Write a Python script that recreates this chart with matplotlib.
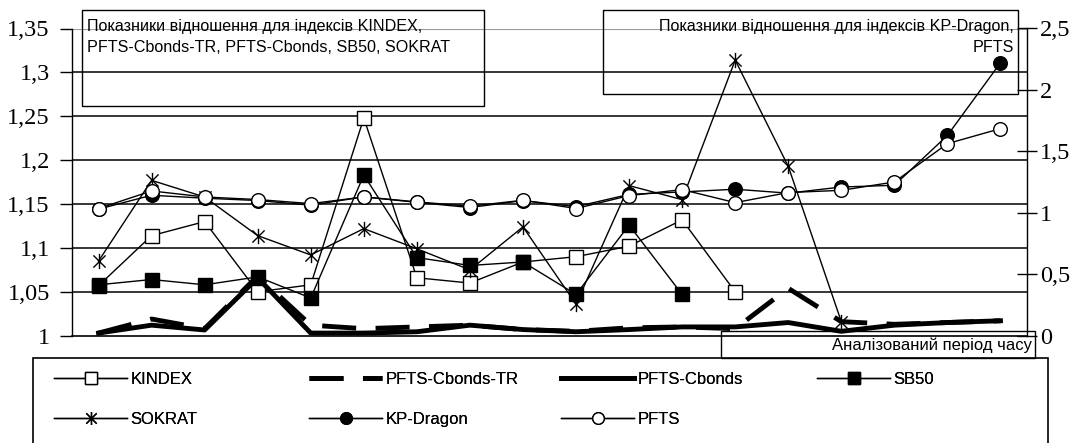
import matplotlib
matplotlib.use("Agg")
import matplotlib.pyplot as plt
import numpy as np
from matplotlib.path import Path
from matplotlib.patches import Rectangle

# ---------------- data ----------------
periods = list(range(1, 19))
kindex = [1.057, 1.114, 1.130, 1.050, 1.058, 1.248, 1.066, 1.060, 1.084, 1.090,
          1.102, 1.132, 1.050, None, None, None, None, None]
cbonds_tr = [1.003, 1.019, 1.008, 1.068, 1.012, 1.008, 1.010, 1.012, 1.007, 1.005,
             1.009, 1.010, 1.008, 1.054, 1.016, 1.013, 1.015, 1.017]
cbonds = [1.003, 1.012, 1.0065, 1.066, 1.003, 1.003, 1.0045, 1.012, 1.007, 1.0045,
          1.007, 1.010, 1.010, 1.015, 1.005, 1.012, 1.015, 1.017]
sb50 = [1.058, 1.064, 1.058, 1.067, 1.043, 1.183, 1.089, 1.080, 1.084, 1.047,
        1.126, 1.047, None, None, None, None, None, None]
sokrat = [1.085, 1.177, 1.158, 1.114, 1.092, 1.122, 1.099, 1.075, 1.124, 1.036,
          1.171, 1.155, 1.314, 1.193, 1.016, None, None, None]
kp_dragon = [1.030, 1.143, 1.119, 1.100, 1.062, 1.130, 1.085, 1.043, 1.100, 1.050,
             1.150, 1.170, 1.192, 1.160, 1.210, 1.224, 1.630, 2.221]
pfts = [1.035, 1.178, 1.129, 1.108, 1.075, 1.129, 1.089, 1.054, 1.102, 1.035,
        1.140, 1.189, 1.083, 1.165, 1.183, 1.251, 1.563, 1.685]

left_ticks = [1, 1.05, 1.1, 1.15, 1.2, 1.25, 1.3, 1.35]
left_labels = ["1", "1,05", "1,1", "1,15", "1,2", "1,25", "1,3", "1,35"]
right_ticks = [0, 0.5, 1, 1.5, 2, 2.5]
right_labels = ["0", "0,5", "1", "1,5", "2", "2,5"]

box_left_text = "Показники відношення для індексів KINDEX,\nPFTS-Cbonds-TR, PFTS-Cbonds, SB50, SOKRAT"
box_right_text = "Показники відношення для індексів KP-Dragon,\nPFTS"
xaxis_title = "Аналізований період часу"

# ---------------- layout helpers ----------------
W, H = 1084, 443
def fx(px):
    return px / W
def fy(py):
    return 1 - py / H

def arr(v):
    return np.array([np.nan if a is None else a for a in v], dtype=float)

SANS = ["Liberation Sans", "DejaVu Sans"]
SERIF = ["Liberation Serif", "DejaVu Serif"]

star = Path([(0, -1), (0, 1), (-0.8, -0.8), (0.8, 0.8), (-0.8, 0.8), (0.8, -0.8)],
            [Path.MOVETO, Path.LINETO, Path.MOVETO, Path.LINETO, Path.MOVETO, Path.LINETO])

fig = plt.figure(figsize=(W / 100, H / 100), dpi=100)
x0, x1 = 72, 1027
ytop, ybot = 28.5, 335.7
ax = fig.add_axes([fx(x0), fy(ybot), fx(x1) - fx(x0), fy(ytop) - fy(ybot)])
ax2 = ax.twinx()

x = np.arange(len(periods))
lw = 1.0
ms = 9.8
l_kindex, = ax.plot(x, arr(kindex), color="black", lw=lw, marker="s", ms=ms,
                    mfc="white", mec="black", mew=1.0, label="KINDEX")
l_tr, = ax.plot(x, arr(cbonds_tr), color="black", lw=3.5, dashes=(7, 4),
                label="PFTS-Cbonds-TR", solid_capstyle="butt", dash_capstyle="butt")
l_cb, = ax.plot(x, arr(cbonds), color="black", lw=3.5, label="PFTS-Cbonds")
l_sb, = ax.plot(x, arr(sb50), color="black", lw=lw, marker="s", ms=ms,
                mfc="black", mec="black", label="SB50")
l_so, = ax.plot(x, arr(sokrat), color="black", lw=lw, marker=star, ms=11,
                mec="black", mew=1.0, label="SOKRAT")
l_kp, = ax2.plot(x, arr(kp_dragon), color="black", lw=lw, marker="o", ms=ms,
                 mfc="black", mec="black", label="KP-Dragon")
l_pf, = ax2.plot(x, arr(pfts), color="black", lw=lw, marker="o", ms=ms,
                 mfc="white", mec="black", mew=1.0, label="PFTS")

ax.set_xlim(-0.5, len(periods) - 0.5)
ax.set_ylim(1, 1.35)
ax2.set_ylim(0, 2.5)
ax.set_xticks([])
ax.set_yticks(left_ticks)
ax.set_yticklabels(left_labels, family=SERIF, fontsize=17.5)
ax2.set_yticks(right_ticks)
ax2.set_yticklabels(right_labels, family=SERIF, fontsize=17.5)
ax.tick_params(axis="y", direction="out", length=9, width=1.0, pad=7)
ax2.tick_params(axis="y", direction="inout", length=15, width=1.0, pad=2)

for t in left_ticks[1:-1]:
    ax.axhline(t, color="black", lw=1.1, zorder=0.5)
ax.axhline(1.35, color="#9a9a9a", lw=0.8, zorder=0.5)

for a in (ax, ax2):
    a.spines["top"].set_visible(False)
    a.patch.set_visible(False)
ax.spines["right"].set_visible(False)
ax2.spines["left"].set_visible(False)
ax2.spines["bottom"].set_visible(False)
ax.spines["left"].set_linewidth(1.0)
ax.spines["bottom"].set_linewidth(1.2)
ax2.spines["right"].set_linewidth(1.0)

# annotation boxes
fig.patches.append(Rectangle((fx(82), fy(106)), fx(484) - fx(82), fy(10) - fy(106),
                             transform=fig.transFigure, fill=False, ec="black", lw=1.0))
fig.text(fx(87), fy(37), box_left_text, family=SANS, fontsize=11.6,
         ha="left", va="center", linespacing=1.5)
fig.patches.append(Rectangle((fx(603), fy(94)), fx(1018) - fx(603), fy(10) - fy(94),
                             transform=fig.transFigure, fill=False, ec="black", lw=1.0))
fig.text(fx(1014), fy(37), box_right_text, family=SANS, fontsize=11.6,
         ha="right", va="center", linespacing=1.5, multialignment="right")
fig.patches.append(Rectangle((fx(721), fy(358)), fx(1035) - fx(721), fy(331) - fy(358),
                             transform=fig.transFigure, fill=False, ec="black", lw=1.0))
fig.text(fx(1032), fy(345), xaxis_title, family=SANS, fontsize=12,
         ha="right", va="center")

# legend
fig.patches.append(Rectangle((fx(33), -0.1), fx(1048) - fx(33), fy(358) + 0.1,
                             transform=fig.transFigure, fill=False, ec="black", lw=1.2))
columns = [([l_kindex, l_so], 54), ([l_tr, l_kp], 309), ([l_cb, l_pf], 561), ([l_sb], 817)]
for handles, cx in columns:
    leg = fig.legend(handles=handles, labels=[h.get_label() for h in handles],
                     loc="upper left", bbox_to_anchor=(fx(cx), fy(372)),
                     frameon=False, borderpad=0, borderaxespad=0,
                     handlelength=4.4, handletextpad=0.2, labelspacing=1.5,
                     markerscale=0.85, numpoints=1,
                     prop={"family": SANS, "size": 12})
    fig.add_artist(leg)

fig.savefig("out.png", dpi=100)
